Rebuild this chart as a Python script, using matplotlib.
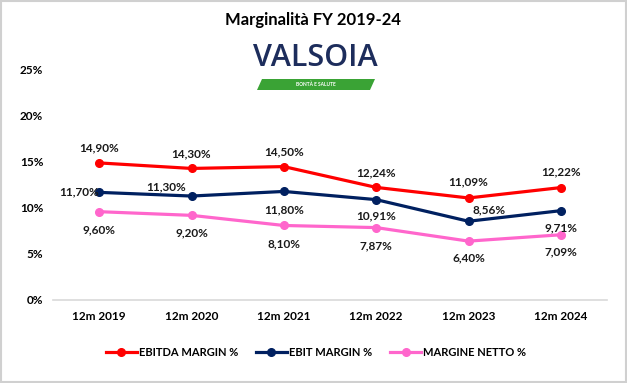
import matplotlib
matplotlib.use("Agg")
import matplotlib.pyplot as plt
from matplotlib.patches import Rectangle, Polygon, Circle, Wedge
from matplotlib.lines import Line2D

plt.rcParams['font.family'] = ['Lato', 'DejaVu Sans']

categories = ["12m 2019", "12m 2020", "12m 2021", "12m 2022", "12m 2023", "12m 2024"]
ebitda = [14.90, 14.30, 14.50, 12.24, 11.09, 12.22]
ebit = [11.70, 11.30, 11.80, 10.91, 8.56, 9.71]
netto = [9.60, 9.20, 8.10, 7.87, 6.40, 7.09]
series_names = ["EBITDA MARGIN %", "EBIT MARGIN %", "MARGINE NETTO %"]
yticks = [0, 5, 10, 15, 20, 25]

colors = ["#FF0000", "#002060", "#FF66CC"]

W, H = 627, 383
fig = plt.figure(figsize=(W / 100, H / 100), dpi=100)
ax = fig.add_axes([53 / W, 1 - 300 / H, (607 - 53) / W, (300 - 70) / H])

x = list(range(len(categories)))
for vals, c in zip([ebitda, ebit, netto], colors):
    ax.plot(x, vals, color=c, lw=2.3, marker='o', ms=5.5, solid_capstyle='round', zorder=3)

ax.set_xlim(-0.5, len(categories) - 0.5)
ax.set_ylim(0, 25)
ax.set_yticks(yticks)
ax.set_yticklabels([f"{v}%" for v in yticks], fontsize=8.5, fontweight='bold')
ax.set_xticks(x)
ax.set_xticklabels(categories, fontsize=8.5, fontweight='bold')
ax.tick_params(length=0, pad=8)
ax.tick_params(axis='y', pad=7)
for s in ['top', 'right', 'left']:
    ax.spines[s].set_visible(False)
ax.spines['bottom'].set_color('#D9D9D9')
ax.spines['bottom'].set_linewidth(1.2)
ax.patch.set_alpha(0)

def fmt(v):
    return f"{v:.2f}%".replace('.', ',')

k = 72 / 100  # px -> pt
ebitda_off = [(0, 15), (0, 15), (0, 15), (0, 15), (0, 16), (0, 16)]
ebit_off = [(-20, 1), (-25, 9), (0, -18), (0, -16), (21, 11), (0, -17)]
netto_off = [(0, -18), (0, -17), (0, -18), (0, -18), (0, -17), (0, -17)]
for vals, offs in [(ebitda, ebitda_off), (ebit, ebit_off), (netto, netto_off)]:
    for i, v in enumerate(vals):
        dx, dy = offs[i]
        ax.annotate(fmt(v), (i, v), xytext=(dx * k, dy * k), textcoords='offset points',
                    ha='center', va='center', fontsize=8.5, fontweight='bold', color='#1a1a1a', zorder=4)

# Title
fig.text(313 / W, 1 - 20 / H, "Marginalità FY 2019-24", ha='center', va='center',
         fontsize=12, fontweight='bold', color='#000000')

# Logo
fig.text(315 / W, 1 - 58 / H, "VALSOIA", ha='center', va='center', fontsize=22,
         color='#1d2d5c', fontweight='semibold', fontfamily=['Open Sans', 'DejaVu Sans'],
         fontstretch='condensed')
band = Polygon([(262 / W, 1 - 79 / H), (375 / W, 1 - 79 / H), (370 / W, 1 - 90 / H), (257 / W, 1 - 90 / H)],
               closed=True, transform=fig.transFigure, facecolor='#3aa335', edgecolor='none')
fig.patches.append(band)
fig.text(316 / W, 1 - 84.5 / H, "BONTÀ E SALUTE", ha='center', va='center', fontsize=3.5,
         color='white', fontweight='bold')

# Legend
handles = [Line2D([0], [0], color=c, lw=2.3, marker='o', ms=5.5) for c in colors]
fig.legend(handles, series_names, loc='center', bbox_to_anchor=(316 / W, 1 - 352 / H),
           ncol=3, frameon=False, prop={'weight': 'bold', 'size': 8},
           handlelength=2.8, handletextpad=0.2, columnspacing=1.6)

# Border
fig.patches.append(Rectangle((0.002, 0.003), 0.996, 0.994, transform=fig.transFigure,
                             facecolor='none', edgecolor='#D0D0D0', lw=1.5))

fig.savefig("out.png", dpi=100)
